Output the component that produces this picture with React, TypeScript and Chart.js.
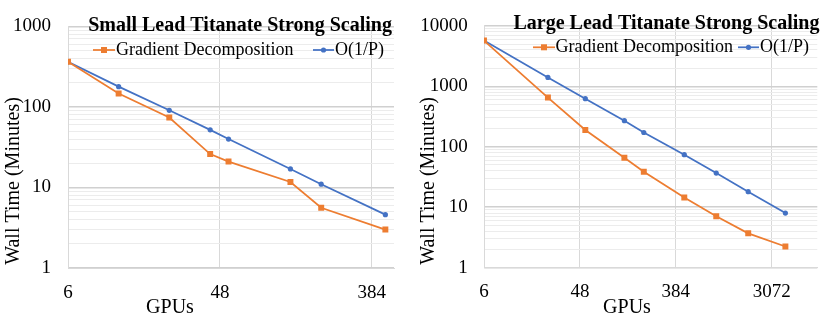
import React, { useEffect, useRef } from "react";
import { Chart, registerables } from "chart.js";

Chart.register(...registerables);

// ---------- data ----------
const smallGPUs = [6, 12, 24, 42, 54, 126, 192, 462];
const smallGradient = [364, 147, 74, 26, 21, 11.7, 5.6, 3.0];
const smallIdeal = [364, 179, 91, 52, 40, 17, 11, 4.6];

const largeGPUs = [6, 24, 54, 126, 192, 462, 924, 1848, 4140];
const largeGradient = [5700, 650, 189, 66, 38.5, 14.5, 7.1, 3.7, 2.24];
const largeIdeal = [5700, 1400, 624, 270, 172, 74, 36.7, 18.1, 8.0];

const smallXTicks = [6, 48, 384];
const largeXTicks = [6, 48, 384, 3072];
const smallYMajor = [1, 10, 100, 1000];
const largeYMajor = [1, 10, 100, 1000, 10000];

const smallTitle = "Small Lead Titanate Strong Scaling";
const largeTitle = "Large Lead Titanate Strong Scaling";
const seriesNames = ["Gradient Decomposition", "O(1/P)"];
const xAxisTitle = "GPUs";
const yAxisTitle = "Wall Time (Minutes)";

// ---------- styles ----------
const ORANGE = "#ED7D31";
const BLUE = "#4472C4";
const FONT = '"Liberation Serif", "Times New Roman", serif';
const W = 415;
const H = 321;

function buildYTicks(majors: number[]) {
  const out: { value: number; major: boolean }[] = [];
  majors.forEach((m, i) => {
    out.push({ value: m, major: true });
    if (i < majors.length - 1) {
      for (let k = 2; k <= 9; k++) out.push({ value: m * k, major: false });
    }
  });
  return out;
}

const overlayPlugin = {
  id: "overlay",
  afterDraw(chart: any, _args: any, o: any) {
    const ctx = chart.ctx as CanvasRenderingContext2D;
    ctx.save();
    ctx.fillStyle = "#000";
    ctx.textBaseline = "middle";
    // title
    ctx.font = `bold ${o.titleSize}px ${FONT}`;
    ctx.textAlign = "center";
    ctx.fillText(o.title, o.titlePos.x, o.titlePos.y);
    // legend
    ctx.font = `${o.legendSize}px ${FONT}`;
    ctx.textAlign = "left";
    const ly = o.legend.y;
    // series 1 (orange, square)
    ctx.strokeStyle = ORANGE;
    ctx.lineWidth = 1.75;
    ctx.beginPath();
    ctx.moveTo(o.legend.s1[0], ly);
    ctx.lineTo(o.legend.s1[1], ly);
    ctx.stroke();
    ctx.fillStyle = ORANGE;
    const m1 = (o.legend.s1[0] + o.legend.s1[1]) / 2;
    ctx.fillRect(m1 - 3, ly - 3, 6, 6);
    ctx.fillStyle = "#000";
    ctx.fillText(o.names[0], o.legend.t1, ly);
    // series 2 (blue, circle)
    ctx.strokeStyle = BLUE;
    ctx.beginPath();
    ctx.moveTo(o.legend.s2[0], ly);
    ctx.lineTo(o.legend.s2[1], ly);
    ctx.stroke();
    ctx.fillStyle = BLUE;
    const m2 = (o.legend.s2[0] + o.legend.s2[1]) / 2;
    ctx.beginPath();
    ctx.arc(m2, ly, 2.6, 0, Math.PI * 2);
    ctx.fill();
    ctx.fillStyle = "#000";
    ctx.fillText(o.names[1], o.legend.t2, ly);
    // axis titles
    ctx.font = `${o.axisTitleSize}px ${FONT}`;
    ctx.textAlign = "center";
    ctx.fillText(o.xTitle, o.xTitlePos.x, o.xTitlePos.y);
    ctx.save();
    ctx.translate(o.yTitlePos.x, o.yTitlePos.y);
    ctx.rotate(-Math.PI / 2);
    ctx.fillText(o.yTitle, 0, 0);
    ctx.restore();
    ctx.restore();
  },
};

type PanelProps = {
  gpus: number[];
  gradient: number[];
  ideal: number[];
  xTicks: number[];
  yMajor: number[];
  title: string;
  layout: any;
};

function Panel({ gpus, gradient, ideal, xTicks, yMajor, title, layout }: PanelProps) {
  const ref = useRef<HTMLCanvasElement | null>(null);
  useEffect(() => {
    if (!ref.current) return;
    const a = layout.area;
    const yTicks = buildYTicks(yMajor);
    const chart = new Chart(ref.current, {
      type: "line",
      data: {
        datasets: [
          {
            label: seriesNames[0],
            data: gpus.map((g, i) => ({ x: g, y: gradient[i] })),
            borderColor: ORANGE,
            backgroundColor: ORANGE,
            borderWidth: 1.75,
            pointStyle: "rect",
            pointRadius: 4.2,
            pointBorderWidth: 0,
            tension: 0,
          },
          {
            label: seriesNames[1],
            data: gpus.map((g, i) => ({ x: g, y: ideal[i] })),
            borderColor: BLUE,
            backgroundColor: BLUE,
            borderWidth: 1.75,
            pointStyle: "circle",
            pointRadius: 2.6,
            pointBorderWidth: 0,
            tension: 0,
          },
        ],
      },
      options: {
        responsive: false,
        animation: false,
        devicePixelRatio: 1,
        layout: { padding: { left: 0, top: a.top, right: W - a.right, bottom: 0 } },
        plugins: {
          legend: { display: false },
          title: { display: false },
          tooltip: { enabled: false },
          overlay: {
            title,
            titleSize: layout.titleSize,
            titlePos: layout.titlePos,
            legendSize: layout.legendSize,
            legend: layout.legend,
            names: seriesNames,
            axisTitleSize: layout.axisTitleSize,
            xTitle: xAxisTitle,
            yTitle: yAxisTitle,
            xTitlePos: layout.xTitlePos,
            yTitlePos: layout.yTitlePos,
          },
        } as any,
        scales: {
          x: {
            type: "logarithmic",
            min: xTicks[0],
            max: layout.xMax,
            afterFit: (s: any) => {
              s.height = H - a.bottom;
            },
            afterBuildTicks: (s: any) => {
              s.ticks = xTicks.map((v) => ({ value: v }));
            },
            ticks: {
              autoSkip: false,
              maxRotation: 0,
              padding: layout.xTickPad,
              color: "#000",
              font: { family: FONT, size: layout.tickSize, lineHeight: 1 },
              callback: (v: any) => String(v),
            },
            grid: { color: "#d9d9d9", lineWidth: 1, drawTicks: false },
            border: { display: true, color: "#d9d9d9", width: 1 },
          },
          y: {
            type: "logarithmic",
            min: yMajor[0],
            max: yMajor[yMajor.length - 1],
            afterFit: (s: any) => {
              s.width = a.left;
            },
            afterBuildTicks: (s: any) => {
              s.ticks = yTicks.map((t) => ({ value: t.value, major: t.major }));
            },
            ticks: {
              autoSkip: false,
              padding: layout.yTickPad,
              color: "#000",
              font: { family: FONT, size: layout.tickSize, lineHeight: 1 },
              callback: (v: any) => (yMajor.includes(Number(v)) ? String(v) : ""),
            },
            grid: {
              drawTicks: false,
              color: (ctx: any) => (ctx.tick && yMajor.includes(ctx.tick.value) ? "#d0d0d0" : "#ececec"),
              lineWidth: (ctx: any) => (ctx.tick && yMajor.includes(ctx.tick.value) ? 1.5 : 1),
            },
            border: { display: true, color: "#d9d9d9", width: 1 },
          },
        },
      } as any,
      plugins: [overlayPlugin as any],
    });
    return () => chart.destroy();
  }, []);
  return <canvas ref={ref} width={W} height={H} style={{ display: "block", width: W, height: H }} />;
}

const smallLayout = {
  area: { left: 68, right: 394, top: 12.5, bottom: 268 },
  xMax: 520,
  tickSize: 19,
  xTickPad: 15.5,
  yTickPad: 17,
  titleSize: 20,
  titlePos: { x: 240, y: 25.5 },
  legendSize: 18,
  legend: { y: 50, s1: [93, 115], t1: 116, s2: [313, 334], t2: 335 },
  axisTitleSize: 20,
  xTitlePos: { x: 170, y: 308 },
  yTitlePos: { x: 14, y: 181 },
};

const largeLayout = {
  area: { left: 69, right: 402.3, top: 11, bottom: 267.7 },
  xMax: 8270,
  tickSize: 19,
  xTickPad: 14.5,
  yTickPad: 16.3,
  titleSize: 20,
  titlePos: { x: 251.5, y: 23.5 },
  legendSize: 18,
  legend: { y: 47.3, s1: [118, 140], t1: 140.5, s2: [323, 344], t2: 345 },
  axisTitleSize: 20,
  xTitlePos: { x: 212, y: 308 },
  yTitlePos: { x: 14, y: 181 },
};

export default function App() {
  return (
    <div style={{ position: "absolute", left: 0, top: 0, width: 830, height: 321, background: "#fff" }}>
      <div style={{ position: "absolute", left: 0, top: 0 }}>
        <Panel
          gpus={smallGPUs}
          gradient={smallGradient}
          ideal={smallIdeal}
          xTicks={smallXTicks}
          yMajor={smallYMajor}
          title={smallTitle}
          layout={smallLayout}
        />
      </div>
      <div style={{ position: "absolute", left: W, top: 0 }}>
        <Panel
          gpus={largeGPUs}
          gradient={largeGradient}
          ideal={largeIdeal}
          xTicks={largeXTicks}
          yMajor={largeYMajor}
          title={largeTitle}
          layout={largeLayout}
        />
      </div>
    </div>
  );
}
